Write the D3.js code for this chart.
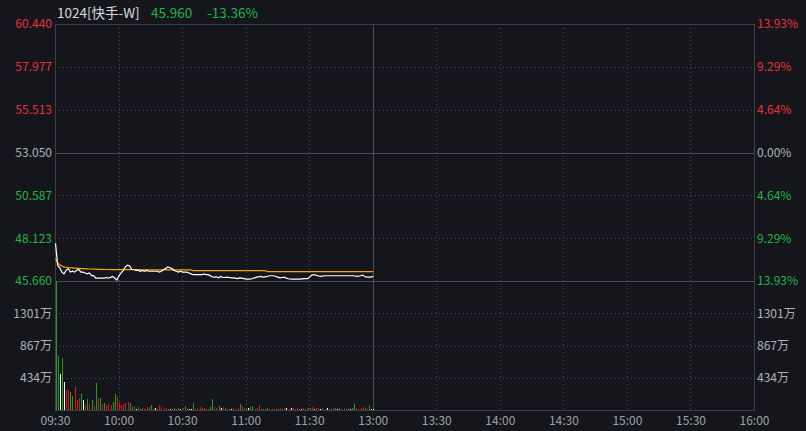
<!DOCTYPE html>
<html><head><meta charset="utf-8">
<script src="https://cdn.jsdelivr.net/npm/d3@7"></script>
<style>
html,body{margin:0;padding:0;background:#14161b;}
svg{display:block;}
text{font-family:"Noto Sans CJK SC","Noto Sans",Arial,sans-serif;}
</style></head>
<body>
<svg id="chart" width="806" height="431"></svg>
<script>
// ---------- data ----------
const stockName = "1024[快手-W]";
const lastPrice = "45.960";
const lastChange = "-13.36%";
const prevClose = 53.05;

const timeLabels = ["09:30","10:00","10:30","11:00","11:30","13:00","13:30","14:00","14:30","15:00","15:30","16:00"];
const timeTickMinutes = [0,30,60,90,120,150,180,210,240,270,300,330];

const priceTicks = [60.440,57.977,55.513,53.050,50.587,48.123,45.660];
const percentLabels = ["13.93%","9.29%","4.64%","0.00%","4.64%","9.29%","13.93%"];
const volumeTicks = [1301,867,434];
const volumeMax = 1735;

// one point per minute from 09:30 (morning session)
const prices = [
 47.85,46.60,46.45,46.20,46.10,46.30,46.40,46.20,46.25,46.20,46.30,
 46.35,46.20,46.20,46.15,46.10,46.15,46.00,46.00,45.85,45.85,
 45.85,45.85,45.85,45.90,45.85,45.90,45.95,45.85,45.75,46.00,
 46.15,46.30,46.50,46.60,46.55,46.35,46.35,46.30,46.30,46.25,
 46.30,46.25,46.30,46.25,46.25,46.25,46.25,46.25,46.20,46.25,
 46.35,46.40,46.50,46.45,46.40,46.30,46.25,46.20,46.25,46.20,
 46.20,46.20,46.15,46.10,46.05,46.05,46.05,46.05,46.05,46.10,
 46.05,46.05,46.00,45.92,45.91,45.93,45.87,45.95,45.89,45.89,
 45.91,45.89,45.87,45.87,45.85,45.83,45.87,45.85,45.83,45.80,
 45.80,45.80,45.83,45.87,45.91,45.93,45.95,45.91,45.93,45.95,
 45.99,45.99,45.99,45.95,45.91,45.87,45.89,45.91,45.85,45.82,
 45.80,45.80,45.80,45.80,45.80,45.80,45.83,45.83,45.83,45.91,
 46.03,46.06,46.01,45.99,45.95,45.97,45.99,45.99,45.99,45.99,
 45.99,45.99,45.99,45.99,45.99,45.99,45.99,45.99,45.99,45.99,
 45.99,45.95,45.97,45.99,46.03,45.95,45.91,45.91,45.91,45.96
];
const avgPrices = [
 46.98,46.75,46.62,46.55,46.50,46.48,46.46,46.45,46.44,46.43,46.42,
 46.41,46.40,46.40,46.39,46.39,46.38,46.38,46.37,46.37,46.36,
 46.36,46.36,46.35,46.35,46.35,46.34,46.34,46.34,46.34,46.34,
 46.34,46.34,46.34,46.34,46.34,46.34,46.34,46.34,46.34,46.34,
 46.33,46.33,46.33,46.33,46.33,46.33,46.33,46.33,46.33,46.33,
 46.33,46.33,46.33,46.33,46.33,46.33,46.33,46.33,46.33,46.33,
 46.33,46.33,46.33,46.33,46.28,46.28,46.28,46.28,46.28,46.28,
 46.28,46.28,46.28,46.28,46.28,46.28,46.28,46.28,46.28,46.28,
 46.28,46.28,46.28,46.28,46.28,46.28,46.28,46.28,46.28,46.28,
 46.28,46.28,46.28,46.28,46.28,46.28,46.28,46.28,46.28,46.23,
 46.23,46.23,46.23,46.23,46.23,46.23,46.23,46.23,46.23,46.23,
 46.23,46.23,46.23,46.23,46.23,46.23,46.23,46.23,46.23,46.23,
 46.23,46.23,46.23,46.23,46.23,46.23,46.23,46.23,46.23,46.23,
 46.23,46.23,46.23,46.23,46.23,46.23,46.23,46.23,46.23,46.23,
 46.23,46.23,46.23,46.23,46.23,46.23,46.23,46.23,46.23,46.23
];
// volume per minute, in 万
const volumes = [
 1730,724,483,696,383,270,270,241,185,327,128,
 156,213,128,71,142,85,128,57,365,156,
 156,85,99,71,85,71,114,213,170,114,
 71,85,99,114,99,43,57,14,43,14,
 28,14,43,43,71,14,28,14,71,43,
 28,28,14,14,14,28,14,28,14,28,
 57,28,14,14,99,14,28,43,28,28,
 14,14,43,142,43,28,57,28,43,28,
 14,14,14,28,14,28,85,57,28,14,
 28,43,57,14,28,71,14,14,14,28,
 14,14,14,28,14,28,14,28,28,14,
 28,28,14,28,14,14,28,14,28,28,
 43,14,28,28,14,28,14,28,14,14,
 28,28,14,28,14,28,14,28,14,28,
 85,28,14,28,43,28,14,71,14,14
];
// bar direction: 1 up (red), -1 down (green), 0 flat (white)
const barDirs = [
 -1,-1,0,-1,0,1,1,-1,-1,1,1,
 1,-1,0,1,-1,1,-1,1,-1,1,
 -1,1,-1,1,1,1,-1,-1,1,1,
 1,1,1,1,-1,-1,1,0,-1,-1,
 1,-1,1,1,-1,-1,0,-1,1,1,
 1,1,-1,0,-1,-1,-1,-1,0,1,
 -1,1,0,0,-1,1,1,1,1,1,
 1,-1,-1,-1,1,1,-1,0,1,-1,
 1,-1,0,1,1,1,-1,1,1,-1,
 0,-1,-1,1,1,1,-1,-1,-1,-1,
 1,-1,1,1,-1,1,-1,1,0,1,
 0,1,1,1,-1,0,1,-1,-1,1,
 1,0,1,1,0,1,-1,0,1,-1,
 1,-1,0,-1,1,1,-1,1,0,-1,
 -1,1,1,1,1,-1,1,-1,0,0
];

// ---------- styling ----------
const C = {
  bg:"#14161b", frame:"#3c3f45", solid:"#4a4d53", dot:"#4a4d54",
  red:"#e8313b", green:"#1fb548", grey:"#b0b3b8", time:"#9ea2a8",
  title:"#d8dadd", white:"#ffffff", avg:"#f5a600",
  barRed:"#d5141c", barGreen:"#17a11c", barWhite:"#ffffff"
};
const L = 55, R = 754, T = 24, MID = 281, B = 410;

const svg = d3.select("#chart");
svg.append("rect").attr("width",806).attr("height",431).attr("fill",C.bg);

const x = d3.scaleLinear().domain([0,330]).range([L,R]);
const yP = d3.scaleLinear().domain([45.66,60.44]).range([MID,T]);
const yV = d3.scaleLinear().domain([0,volumeMax]).range([B,MID]);
const cr = v => Math.round(v)+0.5;

// ---------- grid ----------
const grid = svg.append("g").attr("shape-rendering","crispEdges");
priceTicks.forEach((p,i)=>{
  if(i===0||i===3||i===6) return;
  grid.append("line").attr("x1",L).attr("x2",R).attr("y1",cr(yP(p))).attr("y2",cr(yP(p)))
    .attr("stroke",C.dot).attr("stroke-dasharray","1,3");
});
volumeTicks.forEach(v=>{
  grid.append("line").attr("x1",L).attr("x2",R).attr("y1",cr(yV(v))).attr("y2",cr(yV(v)))
    .attr("stroke",C.dot).attr("stroke-dasharray","1,3");
});
timeTickMinutes.forEach(m=>{
  if(m===0||m===150||m===330) return;
  grid.append("line").attr("x1",cr(x(m))).attr("x2",cr(x(m))).attr("y1",T).attr("y2",B)
    .attr("stroke",C.dot).attr("stroke-dasharray","1,3");
});
grid.append("line").attr("x1",L).attr("x2",R).attr("y1",cr(yP(prevClose))).attr("y2",cr(yP(prevClose))).attr("stroke",C.solid);
grid.append("line").attr("x1",L).attr("x2",R).attr("y1",cr(MID)).attr("y2",cr(MID)).attr("stroke",C.solid);
grid.append("line").attr("x1",cr(x(150))).attr("x2",cr(x(150))).attr("y1",T).attr("y2",B).attr("stroke",C.solid);
grid.append("rect").attr("x",cr(L)).attr("y",cr(T)).attr("width",R-L).attr("height",B-T)
  .attr("fill","none").attr("stroke",C.frame);

// ---------- volume bars ----------
const barColor = d => d>0?C.barRed:(d<0?C.barGreen:C.barWhite);
svg.append("g").attr("shape-rendering","crispEdges").selectAll("rect").data(volumes).join("rect")
  .attr("x",(d,i)=>Math.floor(x(i))+1)
  .attr("width",1)
  .attr("y",d=>Math.round(yV(d)))
  .attr("height",d=>B-Math.round(yV(d)))
  .attr("fill",(d,i)=>barColor(barDirs[i]));

// ---------- lines ----------
const line = d3.line().x((d,i)=>x(i)+0.5).y(d=>yP(d)+0.5);
svg.append("path").attr("d",line(avgPrices)).attr("fill","none").attr("stroke",C.avg).attr("stroke-width",1.2);
svg.append("path").attr("d",line(prices)).attr("fill","none").attr("stroke",C.white).attr("stroke-width",1.2);

// ---------- axes ----------
const priceColor = (p)=> p>prevClose+0.001?C.red:(p<prevClose-0.001?C.green:C.grey);
const styleAxis = (g, fill) => {
  g.select(".domain").remove();
  g.selectAll("text").attr("font-size",12).attr("fill",fill).attr("font-family",'"Noto Sans CJK SC",sans-serif');
};
const leftAx = svg.append("g").attr("transform",`translate(${L-2},0)`)
  .call(d3.axisLeft(yP).tickValues(priceTicks).tickSize(0).tickPadding(1).tickFormat(d3.format(".3f")));
styleAxis(leftAx, d=>priceColor(d));

const rightAx = svg.append("g").attr("transform",`translate(${R+2},0)`)
  .call(d3.axisRight(yP).tickValues(priceTicks).tickSize(0).tickPadding(1).tickFormat((d,i)=>percentLabels[i]));
styleAxis(rightAx, d=>priceColor(d));

const volL = svg.append("g").attr("transform",`translate(${L-2},0)`)
  .call(d3.axisLeft(yV).tickValues(volumeTicks).tickSize(0).tickPadding(1).tickFormat(d=>d+"万"));
styleAxis(volL, C.grey);

const volR = svg.append("g").attr("transform",`translate(${R+2},0)`)
  .call(d3.axisRight(yV).tickValues(volumeTicks).tickSize(0).tickPadding(1).tickFormat(d=>d+"万"));
styleAxis(volR, C.grey);

const timeAx = svg.append("g").attr("transform",`translate(0,${B+6})`)
  .call(d3.axisBottom(x).tickValues(timeTickMinutes).tickSize(0).tickPadding(0).tickFormat((d,i)=>timeLabels[i]));
styleAxis(timeAx, C.time);

// ---------- title ----------
const title = svg.append("g").attr("font-size",13.5);
title.append("text").attr("x",57).attr("y",18).attr("fill",C.title).text(stockName);
title.append("text").attr("x",151).attr("y",18).attr("fill",C.green).text(lastPrice);
title.append("text").attr("x",207).attr("y",18).attr("fill",C.green).text(lastChange);
</script>
</body></html>
